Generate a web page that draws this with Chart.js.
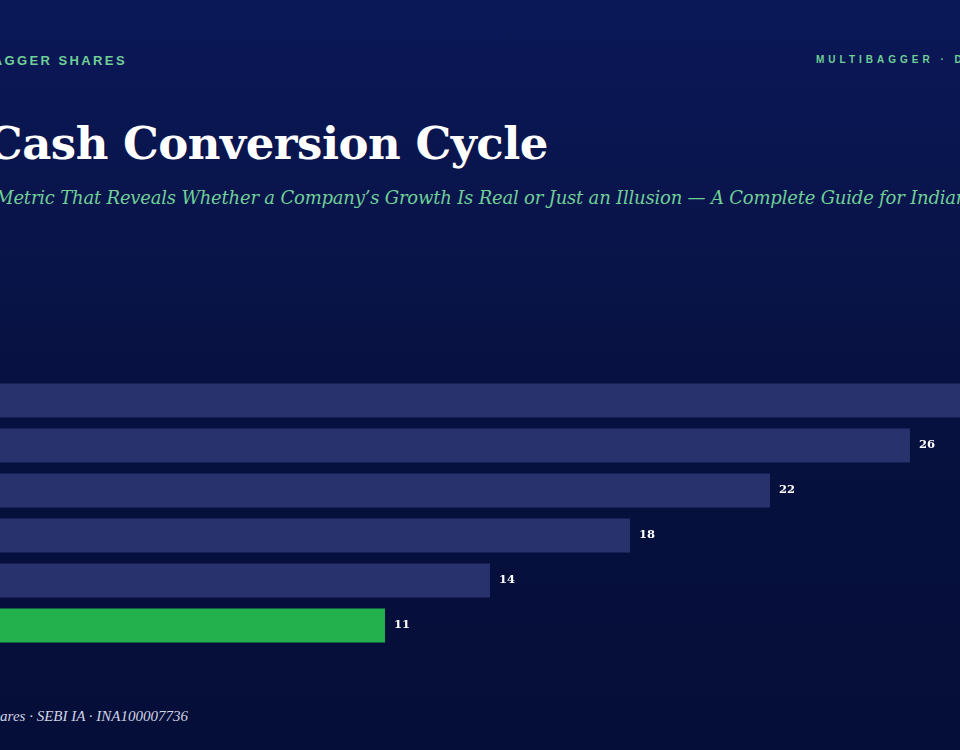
<!DOCTYPE html>
<html><head><meta charset="utf-8">
<script src="https://cdn.jsdelivr.net/npm/chart.js@4/dist/chart.umd.min.js"></script>
<style>
html,body{margin:0;padding:0;width:960px;height:750px;overflow:hidden;}
body{background:linear-gradient(180deg,#0b1858 0%,#07113f 55%,#050e38 100%);position:relative;font-family:"DejaVu Serif",serif;}
.t{position:absolute;white-space:nowrap;}
#brand{right:833px;top:53px;font:bold 13px "Liberation Sans",Arial,sans-serif;letter-spacing:2.4px;color:#6fcf97;}
#brandR{left:816px;top:54px;font:bold 10px "Liberation Sans",Arial,sans-serif;letter-spacing:4px;color:#6fcf97;}
#title{right:412px;top:117px;font:bold 45px "DejaVu Serif",serif;color:#ffffff;letter-spacing:-0.5px;}
#sub{left:-44px;top:187px;font:italic 18px "DejaVu Serif",serif;color:#6fcf97;letter-spacing:-0.2px;}
#foot{right:772px;top:708px;font:italic 15px "Liberation Serif",serif;color:#d0d4e4;}
#wrap{position:absolute;left:0;top:377.5px;width:960px;height:270px;}
</style></head><body>
<div class="t" id="brand">MULTIBAGGER SHARES</div>
<div class="t" id="brandR">MULTIBAGGER · DATA</div>
<div class="t" id="title">The Cash Conversion Cycle</div>
<div class="t" id="sub">The Metric That Reveals Whether a Company’s Growth Is Real or Just an Illusion — A Complete Guide for Indian Investors</div>
<div class="t" id="foot">Multibagger Shares · SEBI IA · INA100007736</div>
<div id="wrap"><canvas id="c"></canvas></div>
<script>
const categories = ["Company A","Company B","Company C","Company D","Company E","Company F"];
const values = [30, 26, 22, 18, 14, 11];
const colors = ["#28336e","#28336e","#28336e","#28336e","#28336e","#22b14c"];
const xMax = 27.43;

const valueLabels = {
  id:'valueLabels',
  afterDatasetsDraw(chart){
    const ctx = chart.ctx;
    const meta = chart.getDatasetMeta(0);
    ctx.save();
    ctx.fillStyle = '#ffffff';
    ctx.font = 'bold 11.5px "DejaVu Serif", serif';
    ctx.textBaseline = 'middle';
    meta.data.forEach((el,i)=>{
      ctx.fillText(String(values[i]), el.x + 9, el.y);
    });
    ctx.restore();
  }
};

new Chart(document.getElementById('c'),{
  type:'bar',
  data:{labels:categories,datasets:[{data:values,backgroundColor:colors,borderWidth:0,barPercentage:34/45,categoryPercentage:1}]},
  options:{
    indexAxis:'y',responsive:true,maintainAspectRatio:false,animation:false,
    layout:{padding:0},
    plugins:{legend:{display:false},tooltip:{enabled:false}},
    scales:{
      x:{display:false,min:0,max:xMax},
      y:{display:false}
    }
  },
  plugins:[valueLabels]
});
</script>
</body></html>
